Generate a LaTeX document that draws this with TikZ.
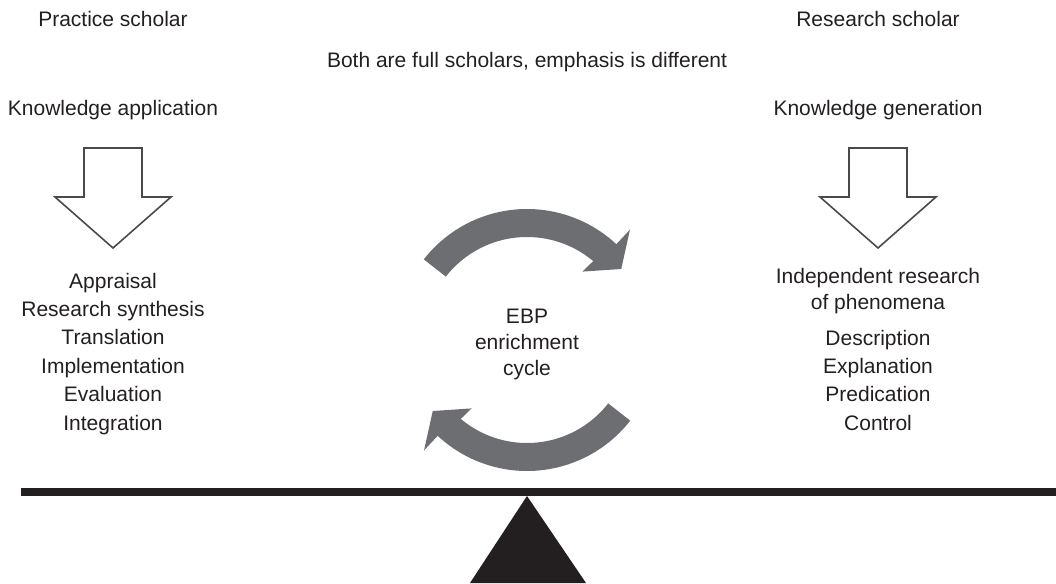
\documentclass[tikz,border=0pt]{standalone}
\usepackage{fontspec}
\setmainfont{Liberation Sans}
\definecolor{ink}{HTML}{231F20}
\definecolor{cyclegray}{HTML}{6D6E71}
\definecolor{outline}{HTML}{4A4A4C}
\begin{document}
\begin{tikzpicture}[x=1pt,y=-1pt,
   every node/.style={font=\fontsize{21}{25}\selectfont,text=ink,anchor=base,inner sep=0pt},
   hollow/.style={draw=outline,line width=1.6pt,fill=white,line join=miter}]
   \useasboundingbox (0,0) rectangle (1056,583);
   % headings
   \node (practice) at (113,27) {Practice scholar};
   \node (research) at (878,27) {Research scholar};
   \node (both) at (527,68) {Both are full scholars, emphasis is different};
   \node (apply) at (113,115) {Knowledge application};
   \node (generate) at (878,115) {Knowledge generation};
   % hollow down arrows
   \foreach \x in {113,878}
     \draw [hollow] (\x-29,148) -- (\x+29,148) -- (\x+29,197) -- (\x+58,197)
       -- (\x,248) -- (\x-58,197) -- (\x-29,197) -- cycle;
   % practice side
   \foreach \t [count=\i] in {Appraisal,Research synthesis,Translation,
       Implementation,Evaluation,Integration}
     \node (app\i) at (113,{288+28.4*(\i-1)}) {\t};
   % research side
   \node (indep) at (878,283) {Independent research};
   \node (phen) at (878,309) {of phenomena};
   \foreach \t [count=\i] in {Description,Explanation,Predication,Control}
     \node (gen\i) at (878,{345+28.4*(\i-1)}) {\t};
   % cycle in the middle
   \node (ebp) at (527,323) {EBP};
   \node (enrich) at (527,349) {enrichment};
   \node (cyc) at (527,375) {cycle};
   \foreach \r in {0,180}
     \fill [cyclegray,shift={(527,340)},rotate=\r]
       (-142:131) arc [start angle=-142,end angle=-47,radius=131]
       -- (-47:151) -- (-37:118) -- (-51:88) -- (-50:103)
       arc [start angle=-50,end angle=-142,radius=103] -- cycle;
   % seesaw
   \fill [ink] (21,488) rectangle (1056,496);
   \fill [ink] (527,496) -- (586,583) -- (470,583) -- cycle;
\end{tikzpicture}
\end{document}
